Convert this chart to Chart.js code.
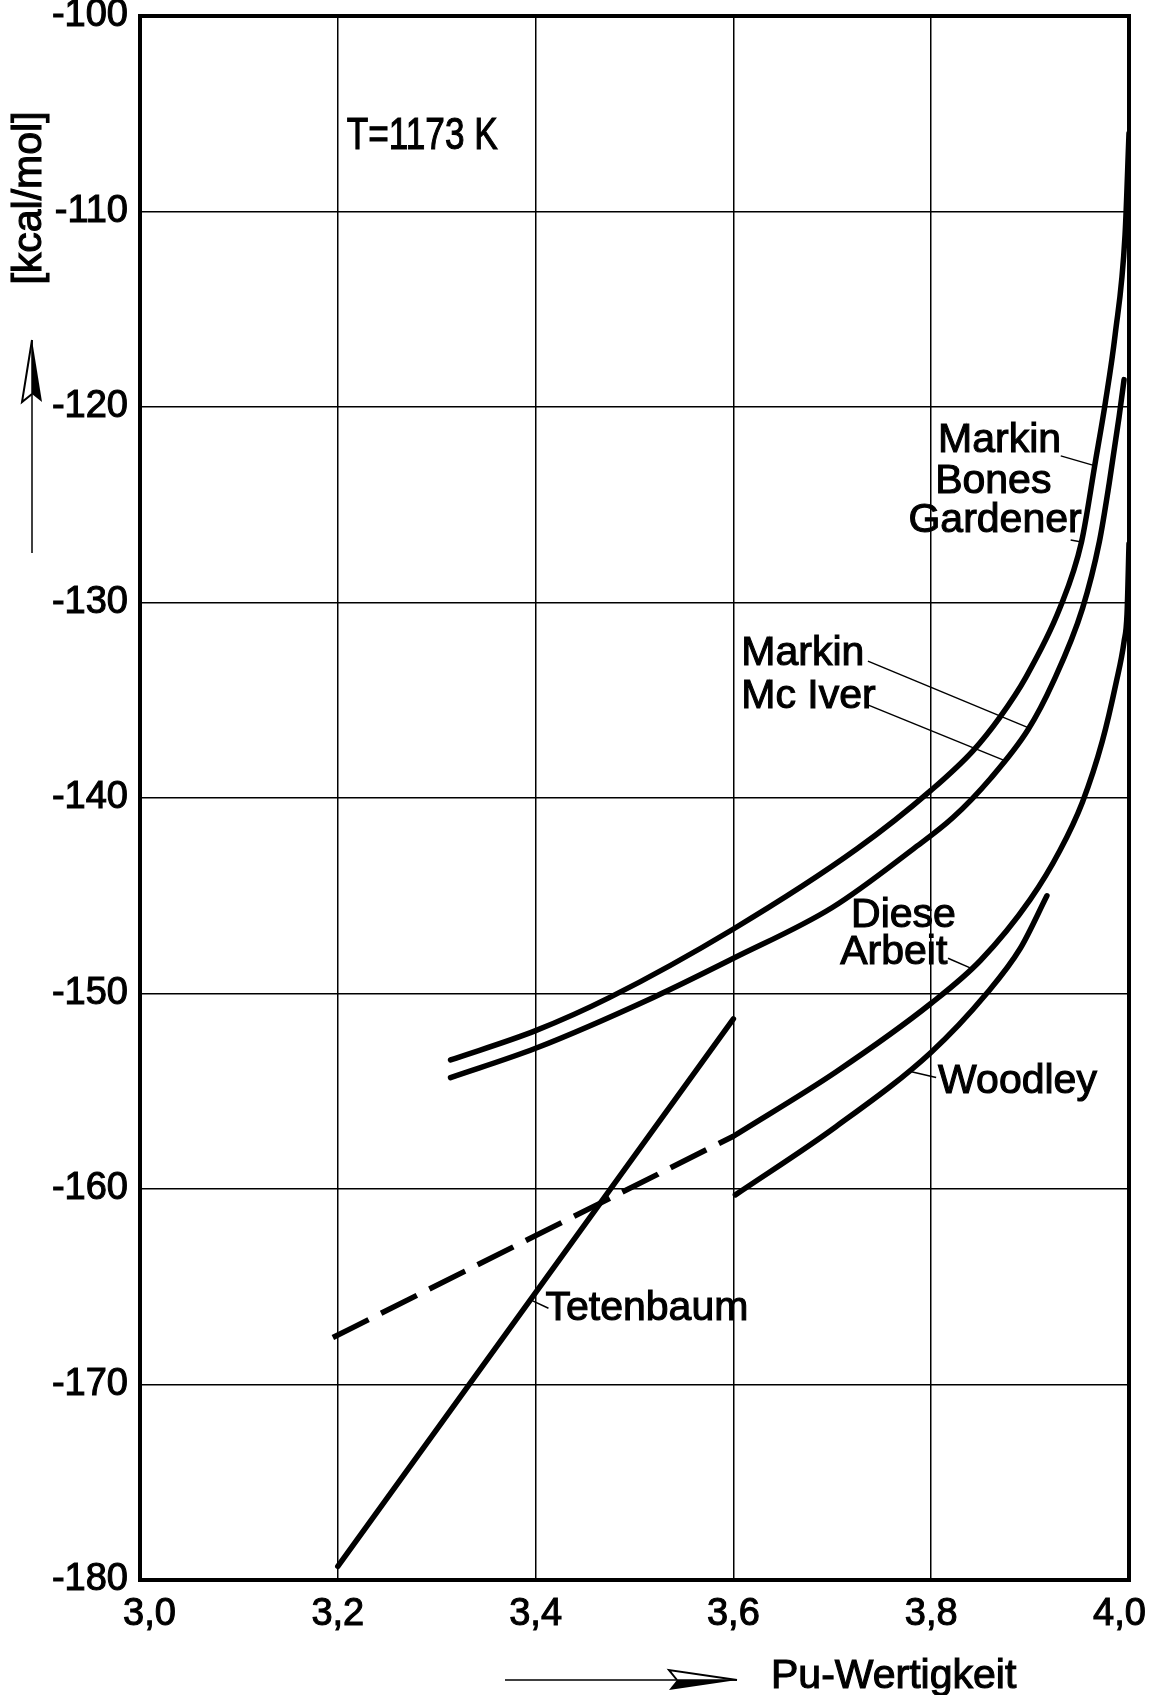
<!DOCTYPE html>
<html>
<head>
<meta charset="utf-8">
<title>Pu-Wertigkeit</title>
<script src="https://cdn.jsdelivr.net/npm/chart.js@4.4.1/dist/chart.umd.min.js"></script>
<style>
  html, body { margin: 0; padding: 0; background: #fff; }
  #wrap { width: 1152px; height: 1695px; }
</style>
</head>
<body>
<div id="wrap"><canvas id="chart" width="1152" height="1695"></canvas></div>
<script>
"use strict";

// Markin, Bones, Gardener
let mbgX = [3.314, 3.4, 3.475, 3.6, 3.725, 3.8, 3.842, 3.869, 3.896, 3.93, 3.952, 3.966, 3.976, 3.986, 3.996, 4.0];
let mbgY = [-153.4, -151.9, -150.2, -146.7, -142.6, -139.6, -137.6, -135.9, -133.8, -130.3, -126.9, -122.8, -119.8, -116.3, -111.2, -106.0];

// Markin, Mc Iver
let mmiX = [3.314, 3.4, 3.519, 3.6, 3.7, 3.782, 3.822, 3.86, 3.898, 3.923, 3.953, 3.97, 3.98, 3.99, 3.995];
let mmiY = [-154.3, -152.8, -150.2, -148.2, -145.6, -142.6, -141.0, -139.0, -136.5, -134.1, -130.3, -126.9, -123.9, -120.5, -118.6];

// Diese Arbeit (dashed part, then measured part)
let dieseDashX = [3.195, 3.6];
let dieseDashY = [-167.6, -157.3];
let dieseX = [3.6, 3.704, 3.8, 3.85, 3.9, 3.93, 3.953, 3.973, 3.987, 3.995, 3.998, 4.0];
let dieseY = [-157.3, -154.0, -150.5, -148.3, -145.2, -142.7, -140.2, -137.1, -134.1, -132.0, -130.6, -127.0];

// Woodley
let woodleyX = [3.602, 3.704, 3.8, 3.856, 3.89, 3.917];
let woodleyY = [-160.3, -156.8, -153.0, -150.0, -147.7, -145.0];

// Tetenbaum
let tetenX = [3.2, 3.6];
let tetenY = [-179.3, -151.3];

// axes
let xMin = 3.0, xMax = 4.0, xStep = 0.2;
let yMin = -180, yMax = -100, yStep = 10;

// curve labels: text, x, y (left end of baseline)
let notes = [
  ["Markin", 3.807, -122.3],
  ["Bones", 3.804, -124.4],
  ["Gardener", 3.777, -126.4],
  ["Markin", 3.608, -133.2],
  ["Mc Iver", 3.608, -135.4],
  ["Diese", 3.719, -146.6],
  ["Arbeit", 3.708, -148.5],
  ["Woodley", 3.807, -155.1],
  ["Tetenbaum", 3.410, -166.7]
];
let tempNote = ["T=1173 K", 3.209, -106.8];

// leader lines from labels to curves
let leaders = [
  [3.931, -122.5, 3.965, -123.0],
  [3.941, -126.8, 3.952, -126.9],
  [3.736, -133.0, 3.898, -136.4],
  [3.734, -135.2, 3.875, -138.1],
  [3.817, -148.2, 3.840, -148.7],
  [3.805, -154.3, 3.780, -154.0],
  [3.413, -166.1, 3.396, -165.7]
];

let toPoints = (xs, ys) => xs.map((x, i) => ({ x: x, y: ys[i] }));

let line = (xs, ys, dash) => ({
  data: toPoints(xs, ys),
  showLine: true,
  pointRadius: 0,
  borderColor: "#000",
  borderWidth: 5.5,
  borderDash: dash || [],
  borderCapStyle: dash ? "butt" : "round",
  cubicInterpolationMode: "monotone",
  fill: false
});

let tickFont = { family: "'Liberation Sans', Arial, sans-serif", size: 38 };
let labelFont = "41px 'Liberation Sans', Arial, sans-serif";

// no extra room for the edge labels, the frame sits where the drawing has it
let noPadding = s => {
  s.paddingTop = 0;
  s.paddingBottom = 0;
  s.paddingLeft = 0;
  s.paddingRight = 0;
};

// x tick text; the two end labels sit a little inside, as in the drawing
let xTickLabel = v => {
  let s = v.toFixed(1).replace(".", ",");
  if (Math.abs(v - xMin) < 1e-9) return "\u2002" + s;
  if (Math.abs(v - xMax) < 1e-9) return s + "\u2002";
  return s;
};

// heavier text, like the drawing
function text(ctx, s, x, y) {
  ctx.fillText(s, x, y);
  ctx.lineWidth = 1.1;
  ctx.strokeText(s, x, y);
}

// half filled arrow head like the drawing
function arrow(ctx, x1, y1, x2, y2, len, half) {
  let dx = x2 - x1, dy = y2 - y1;
  let d = Math.hypot(dx, dy);
  let ux = dx / d, uy = dy / d;
  let bx = x2 - ux * len, by = y2 - uy * len;
  let px = -uy * half, py = ux * half;
  ctx.beginPath();
  ctx.moveTo(x1, y1);
  ctx.lineTo(x2, y2);
  ctx.lineWidth = 1.5;
  ctx.stroke();
  ctx.beginPath();
  ctx.moveTo(x2, y2);
  ctx.lineTo(bx + px, by + py);
  ctx.lineTo(bx + ux * 8, by + uy * 8);
  ctx.closePath();
  ctx.fill();
  ctx.beginPath();
  ctx.moveTo(x2, y2);
  ctx.lineTo(bx - px, by - py);
  ctx.lineTo(bx + ux * 8, by + uy * 8);
  ctx.lineWidth = 2;
  ctx.stroke();
}

let notesPlugin = {
  id: "notes",
  afterDatasetsDraw(chart) {
    let ctx = chart.ctx;
    let a = chart.chartArea;
    let xs = chart.scales.x, ys = chart.scales.y;
    ctx.save();
    ctx.strokeStyle = "#000";
    ctx.fillStyle = "#000";

    // frame
    ctx.lineWidth = 4;
    ctx.strokeRect(a.left, a.top, a.right - a.left, a.bottom - a.top);

    // leader lines
    ctx.lineWidth = 1.5;
    for (let l of leaders) {
      ctx.beginPath();
      ctx.moveTo(xs.getPixelForValue(l[0]), ys.getPixelForValue(l[1]));
      ctx.lineTo(xs.getPixelForValue(l[2]), ys.getPixelForValue(l[3]));
      ctx.stroke();
    }

    // labels
    ctx.textBaseline = "alphabetic";
    ctx.textAlign = "left";
    ctx.font = labelFont;
    for (let n of notes) {
      text(ctx, n[0], xs.getPixelForValue(n[1]), ys.getPixelForValue(n[2]));
    }

    // temperature, narrow letters
    ctx.save();
    ctx.translate(xs.getPixelForValue(tempNote[1]), ys.getPixelForValue(tempNote[2]));
    ctx.scale(0.8, 1);
    ctx.font = "44px 'Liberation Sans', Arial, sans-serif";
    text(ctx, tempNote[0], 0, 0);
    ctx.restore();

    // axis titles with arrows
    ctx.font = labelFont;
    text(ctx, "Pu-Wertigkeit", 771, 1688);
    arrow(ctx, 505, 1680, 737, 1680, 68, 10);

    ctx.save();
    ctx.translate(41, 198);
    ctx.rotate(-Math.PI / 2);
    ctx.textAlign = "center";
    text(ctx, "[kcal/mol]", 0, 0);
    ctx.restore();
    arrow(ctx, 32, 553, 32, 340, 62, 10);

    ctx.restore();
  }
};

let chartEl = document.querySelector("#chart");
let myChart = new Chart(chartEl, {
  type: "scatter",
  data: {
    datasets: [
      line(mbgX, mbgY),
      line(mmiX, mmiY),
      line(dieseDashX, dieseDashY, [40, 14]),
      line(dieseX, dieseY),
      line(woodleyX, woodleyY),
      line(tetenX, tetenY)
    ]
  },
  options: {
    responsive: false,
    animation: false,
    layout: { autoPadding: false, padding: { top: 16, right: 23, left: 0, bottom: 0 } },
    plugins: {
      legend: { display: false },
      tooltip: { enabled: false }
    },
    scales: {
      x: {
        type: "linear",
        min: xMin,
        max: xMax,
        afterFit: s => { s.height = 115; noPadding(s); },
        border: { display: false },
        grid: { color: "#000", lineWidth: 1.5, drawTicks: false },
        ticks: {
          stepSize: xStep,
          color: "#000",
          font: tickFont,
          textStrokeColor: "#000",
          textStrokeWidth: 1.1,
          padding: 12,
          maxRotation: 0,
          callback: xTickLabel
        }
      },
      y: {
        type: "linear",
        min: yMin,
        max: yMax,
        afterFit: s => { s.width = 140; noPadding(s); },
        border: { display: false },
        grid: { color: "#000", lineWidth: 1.5, drawTicks: false },
        ticks: {
          stepSize: yStep,
          color: "#000",
          font: tickFont,
          textStrokeColor: "#000",
          textStrokeWidth: 1.1,
          padding: 12,
          callback: v => String(v)
        }
      }
    }
  },
  plugins: [notesPlugin]
});
</script>
</body>
</html>
